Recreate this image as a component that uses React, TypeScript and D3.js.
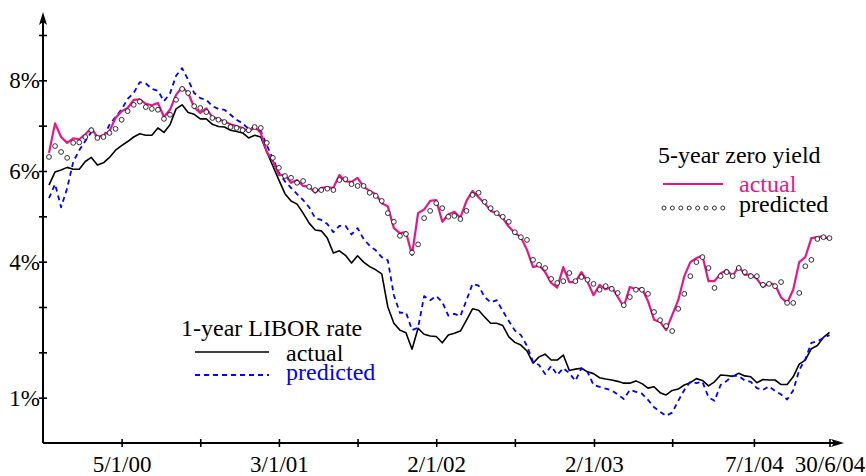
import React, { useEffect, useRef } from 'react';
import { select, scaleTime, scaleLinear, axisBottom, axisLeft, line, range, timeDay } from 'd3';

// biweekly observations, 21 Jul 1999 .. 30 Jun 2004
const startDate = new Date(1999, 6, 21);
const endDate = new Date(2004, 5, 30);
const dates = range(130).map(i => timeDay.offset(startDate, 14 * i));

// 5-year zero yield (%)
const zeroActual = [
  6.40, 7.05, 6.75, 6.62, 6.72, 6.70, 6.81, 6.94, 6.75, 6.79,
  6.88, 7.17, 7.32, 7.39, 7.57, 7.58, 7.48, 7.45, 7.50, 7.19,
  7.35, 7.68, 7.85, 7.72, 7.40, 7.28, 7.38, 7.19, 7.15, 7.09,
  7.03, 6.99, 6.95, 6.86, 6.97, 6.84, 6.42, 6.22, 5.91, 5.91,
  5.74, 5.80, 5.67, 5.65, 5.52, 5.63, 5.64, 5.63, 5.91, 5.77,
  5.76, 5.85, 5.65, 5.56, 5.49, 5.29, 5.22, 4.74, 4.63, 4.65,
  4.15, 5.07, 5.15, 5.34, 5.36, 4.88, 5.04, 5.10, 4.97, 5.34,
  5.56, 5.42, 5.29, 5.12, 5.07, 4.96, 4.77, 4.63, 4.54, 4.26,
  3.88, 3.92, 3.77, 3.53, 3.43, 3.88, 3.55, 3.55, 3.77, 3.56,
  3.26, 3.49, 3.39, 3.44, 3.22, 3.01, 3.44, 3.39, 3.41, 3.13,
  2.72, 2.67, 2.49, 2.82, 3.15, 3.68, 3.99, 4.08, 4.13, 3.57,
  3.57, 3.74, 3.82, 3.68, 3.90, 3.71, 3.72, 3.62, 3.44, 3.53,
  3.49, 3.21, 3.09, 3.38, 3.99, 4.10, 4.52, 4.54, 4.56, 4.49,
];
const zeroPredicted = [
  6.31, 6.55, 6.42, 6.29, 6.62, 6.63, 6.75, 6.90, 6.73, 6.75,
  6.84, 6.93, 7.13, 7.32, 7.46, 7.53, 7.41, 7.37, 7.35, 7.15,
  7.24, 7.57, 7.81, 7.72, 7.43, 7.39, 7.30, 7.17, 7.13, 7.08,
  6.97, 6.95, 6.90, 6.90, 6.97, 6.95, 6.62, 6.29, 6.07, 5.89,
  5.85, 5.74, 5.78, 5.65, 5.58, 5.58, 5.61, 5.58, 5.80, 5.82,
  5.71, 5.67, 5.67, 5.52, 5.45, 5.34, 5.07, 4.88, 4.57, 4.61,
  4.20, 4.38, 4.96, 5.12, 5.29, 5.18, 4.99, 5.01, 4.94, 5.12,
  5.47, 5.52, 5.32, 5.18, 5.07, 4.99, 4.88, 4.65, 4.54, 4.48,
  4.04, 3.93, 3.86, 3.62, 3.53, 3.57, 3.75, 3.57, 3.66, 3.60,
  3.51, 3.38, 3.46, 3.40, 3.31, 3.04, 3.22, 3.38, 3.38, 3.29,
  2.89, 2.71, 2.58, 2.47, 2.96, 3.29, 3.68, 3.99, 4.10, 3.86,
  3.42, 3.68, 3.77, 3.68, 3.86, 3.77, 3.68, 3.68, 3.49, 3.51,
  3.46, 3.55, 3.09, 3.09, 3.31, 3.90, 4.04, 4.50, 4.54, 4.52,
];

// 1-year LIBOR rate (%)
const liborActual = [
  5.69, 5.98, 6.02, 6.08, 6.04, 6.04, 6.21, 6.30, 6.13, 6.18,
  6.30, 6.46, 6.56, 6.65, 6.75, 6.82, 6.79, 6.79, 6.95, 6.85,
  7.02, 7.37, 7.46, 7.29, 7.25, 7.15, 7.15, 7.03, 6.98, 6.97,
  6.90, 6.87, 6.84, 6.73, 6.79, 6.75, 6.42, 6.11, 5.80, 5.50,
  5.34, 5.27, 5.07, 4.85, 4.70, 4.68, 4.52, 4.19, 4.24, 4.14,
  3.97, 4.13, 3.99, 3.89, 3.82, 3.73, 3.00, 2.64, 2.49, 2.43,
  2.07, 2.53, 2.40, 2.36, 2.35, 2.21, 2.38, 2.42, 2.47, 2.71,
  2.96, 2.93, 2.78, 2.64, 2.64, 2.59, 2.34, 2.22, 2.16, 2.03,
  1.76, 1.90, 1.96, 1.83, 1.83, 1.94, 1.60, 1.63, 1.65, 1.57,
  1.53, 1.44, 1.41, 1.39, 1.36, 1.32, 1.32, 1.37, 1.31, 1.21,
  1.24, 1.11, 1.06, 1.16, 1.19, 1.28, 1.33, 1.42, 1.38, 1.26,
  1.35, 1.50, 1.49, 1.47, 1.54, 1.48, 1.46, 1.33, 1.40, 1.39,
  1.39, 1.29, 1.29, 1.46, 1.74, 1.83, 2.08, 2.15, 2.33, 2.44,
];
const liborPredicted = [
  5.40, 5.71, 5.20, 5.62, 6.20, 6.46, 6.66, 6.86, 6.75, 6.76,
  7.02, 7.19, 7.36, 7.59, 7.72, 7.96, 7.93, 7.81, 7.77, 7.54,
  7.71, 8.10, 8.27, 8.01, 7.72, 7.61, 7.57, 7.43, 7.37, 7.35,
  7.24, 7.13, 7.05, 6.93, 6.97, 6.88, 6.57, 6.27, 5.96, 5.77,
  5.63, 5.49, 5.36, 5.20, 4.96, 4.92, 4.83, 4.65, 4.79, 4.79,
  4.60, 4.74, 4.50, 4.35, 4.25, 4.10, 4.03, 3.26, 2.87, 2.88,
  2.49, 2.54, 3.24, 3.15, 3.24, 3.11, 2.81, 2.85, 2.80, 3.15,
  3.51, 3.47, 3.22, 3.10, 3.15, 2.91, 2.69, 2.48, 2.38, 2.14,
  1.79, 1.72, 1.52, 1.70, 1.50, 1.65, 1.54, 1.37, 1.65, 1.57,
  1.28, 1.24, 1.20, 1.16, 1.07, 0.97, 1.17, 1.13, 1.09, 0.95,
  0.79, 0.69, 0.60, 0.67, 0.93, 1.17, 1.35, 1.32, 1.35, 1.01,
  0.93, 1.28, 1.37, 1.48, 1.48, 1.38, 1.35, 1.21, 1.17, 1.25,
  1.15, 1.07, 0.96, 1.16, 1.61, 1.85, 2.21, 2.24, 2.32, 2.38,
];

const xTickDates = [
  new Date(2000, 0, 5), new Date(2000, 6, 5), new Date(2001, 0, 3), new Date(2001, 6, 4),
  new Date(2002, 0, 2), new Date(2002, 6, 3), new Date(2003, 0, 2), new Date(2003, 6, 2),
  new Date(2004, 0, 7), new Date(2004, 5, 30),
];
const xTickLabels = ['5/1/00', '', '3/1/01', '', '2/1/02', '', '2/1/03', '', '7/1/04', '30/6/04'];
const yTicks = [1, 2, 3, 4, 5, 6, 7, 8, 9];
const yLabelled = [1, 4, 6, 8];

const PINK = '#e8168a';
const BLUE = '#0000ff';
const FONT = 'Liberation Serif';

function App() {
  const svgRef = useRef<SVGSVGElement>(null);

  useEffect(() => {
    const svg = select(svgRef.current);
    const xScale = scaleTime().domain([startDate, endDate]).range([49, 829.5]);
    const yScale = scaleLinear().domain([0, 9]).range([443, 35]);

    // x axis ticks + labels
    const xAxis = axisBottom(xScale)
      .tickValues(xTickDates)
      .tickFormat((d, i) => xTickLabels[i])
      .tickSizeInner(4)
      .tickSizeOuter(0)
      .tickPadding(9);
    const gx = svg.select('.x-axis').attr('transform', 'translate(0,443)').call(xAxis as any);
    gx.attr('font-family', null).attr('font-size', null);
    gx.select('.domain').remove();
    gx.selectAll('.tick line').attr('y1', -4).attr('y2', 4).attr('stroke-width', 1.6);
    gx.selectAll('.tick text').style('font-family', FONT).style('font-size', '23px').attr('fill', '#000');

    // y axis ticks + labels
    const yAxis = axisLeft(yScale)
      .tickValues(yTicks)
      .tickFormat(d => (yLabelled.includes(+d) ? `${d}%` : ''))
      .tickSizeInner(4)
      .tickSizeOuter(0);
    const gy = svg.select('.y-axis').attr('transform', 'translate(43,0)').call(yAxis as any);
    gy.attr('font-family', null).attr('font-size', null);
    gy.select('.domain').remove();
    gy.selectAll('.tick line').attr('x1', -4).attr('x2', 4).attr('stroke-width', 1.6);
    gy.selectAll('.tick text').attr('x', -3).style('font-family', FONT).style('font-size', '23px').attr('fill', '#000');

    const makeLine = line<number>()
      .x((v, i) => xScale(dates[i]))
      .y(v => yScale(v));

    svg.select('.series')
      .selectAll('path')
      .data([
        { values: liborActual, color: '#000', width: 1.6, dash: null },
        { values: liborPredicted, color: BLUE, width: 1.8, dash: '5,4' },
        { values: zeroActual, color: PINK, width: 2.2, dash: null },
      ])
      .join('path')
      .attr('d', d => makeLine(d.values))
      .attr('fill', 'none')
      .attr('stroke', d => d.color)
      .attr('stroke-width', d => d.width)
      .attr('stroke-dasharray', d => d.dash)
      .attr('stroke-linejoin', 'round');

    svg.select('.dots')
      .selectAll('circle')
      .data(zeroPredicted)
      .join('circle')
      .attr('cx', (v, i) => xScale(dates[i]))
      .attr('cy', v => yScale(v))
      .attr('r', 2.4)
      .attr('fill', '#fff')
      .attr('stroke', '#000')
      .attr('stroke-width', 0.8);
  }, []);

  const legendDots = range(8).map(i => 664 + i * 8.4);
  const textStyle = { fontFamily: FONT, fontSize: '24px' };

  return (
    <svg ref={svgRef} width={866} height={476} style={{ display: 'block', position: 'absolute', left: 0, top: 0, background: '#fff' }}>
      <g className="series" />
      <g className="dots" />
      {/* axis lines with arrows */}
      <line x1={43} y1={443} x2={43} y2={18} stroke="#000" strokeWidth={2} />
      <path d="M43,12 L39,25 L43,22 L47,25 Z" fill="#000" />
      <line x1={43} y1={443} x2={838} y2={443} stroke="#000" strokeWidth={2} />
      <path d="M844,443 L831,439 L834,443 L831,447 Z" fill="#000" />
      <g className="x-axis" />
      <g className="y-axis" />

      {/* 5-year zero yield legend */}
      <g style={textStyle}>
        <text x={658} y={163}>5-year zero yield</text>
        <line x1={663} y1={184} x2={723} y2={184} stroke={PINK} strokeWidth={2.2} />
        <text x={739} y={192} fill={PINK}>actual</text>
        {legendDots.map(x => (
          <circle key={x} cx={x} cy={208} r={2} fill="#fff" stroke="#000" strokeWidth={0.8} />
        ))}
        <text x={739} y={212}>predicted</text>
      </g>

      {/* 1-year LIBOR legend */}
      <g style={textStyle}>
        <text x={181} y={336}>1-year LIBOR rate</text>
        <line x1={195} y1={352} x2={269} y2={352} stroke="#000" strokeWidth={1.6} />
        <text x={286} y={361}>actual</text>
        <line x1={195} y1={375} x2={269} y2={375} stroke={BLUE} strokeWidth={1.8} strokeDasharray="5,4" />
        <text x={286} y={380} fill={BLUE}>predicted</text>
      </g>
    </svg>
  );
}

export default App;
